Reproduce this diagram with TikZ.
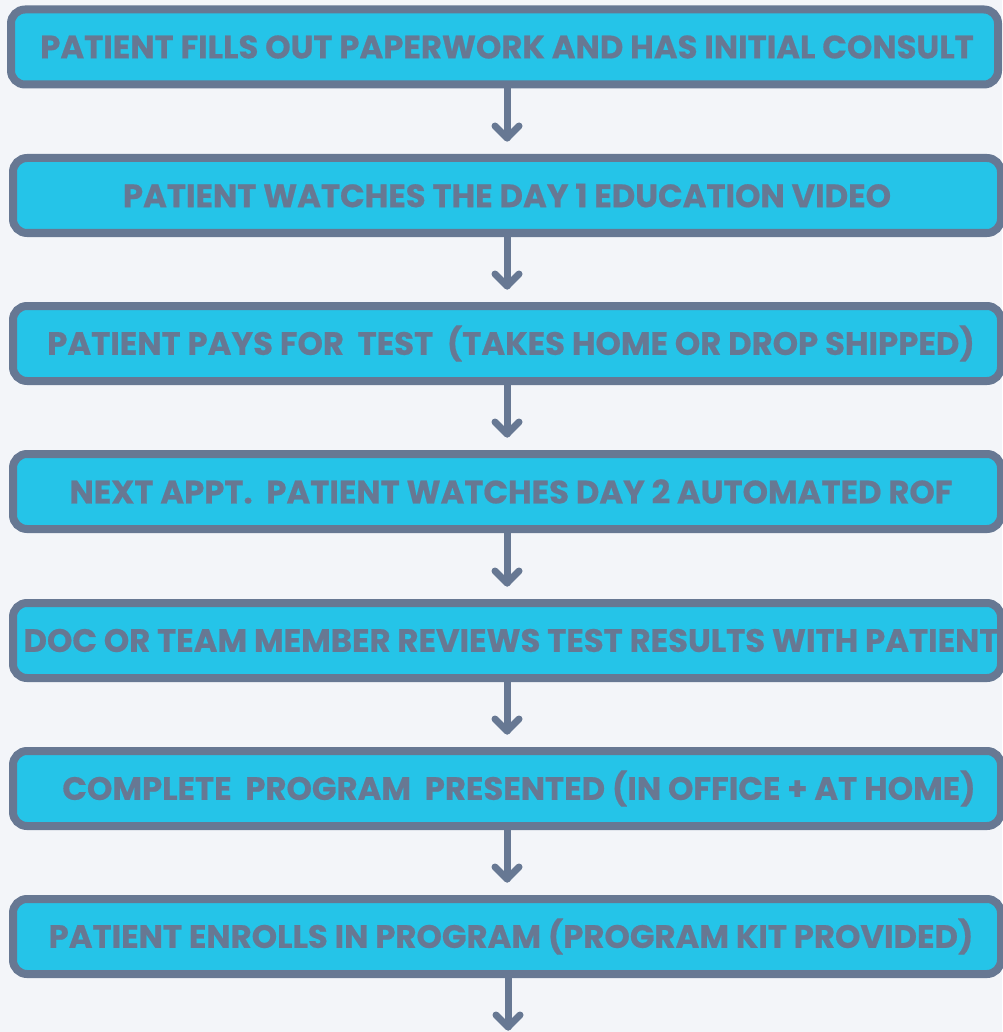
\documentclass[tikz,border=0pt]{standalone}
\usepackage{fontspec}
\newfontfamily\popfont{Poppins}[FakeBold=0.6]
\usetikzlibrary{calc}
\definecolor{bg}{HTML}{F3F5F9}
\definecolor{boxfill}{HTML}{25C4E8}
\definecolor{slate}{HTML}{677893}
\tikzset{
  stepbox/.style={draw=slate, fill=boxfill, line width=8pt, rounded corners=14pt,
    minimum height=75pt, inner sep=0pt, text=slate,
    font=\popfont\bfseries\fontsize{32.3}{38}\selectfont},
  conn/.style={draw=slate, line width=7pt, line cap=round, line join=round},
}
\begin{document}
\begin{tikzpicture}[x=1pt,y=-1pt]
\fill[bg] (0,0) rectangle (1002,1032);
\useasboundingbox (0,0) rectangle (1002,1032);
\node[stepbox, minimum width=987pt] (b1) at (504.5,47) {\hspace{5pt}PATIENT FILLS OUT PAPERWORK AND HAS INITIAL CONSULT};
\node[stepbox, minimum width=988pt] (b2) at (507,195.5) {PATIENT WATCHES THE DAY 1 EDUCATION VIDEO};
\node[stepbox, minimum width=988pt] (b3) at (507,343.5) {\hspace{8pt}PATIENT PAYS FOR\ \ TEST\ \ (TAKES HOME OR DROP SHIPPED)};
\node[stepbox, minimum width=988pt] (b4) at (507,491.5) {\hspace{8pt}NEXT APPT.\ \ PATIENT WATCHES DAY 2 AUTOMATED ROF};
\node[stepbox, minimum width=988pt] (b5) at (507,640.5) {\hspace{8pt}DOC OR TEAM MEMBER REVIEWS TEST RESULTS WITH PATIENT};
\node[stepbox, minimum width=988pt] (b6) at (507,788.5) {\hspace{24pt}COMPLETE\ \ PROGRAM\ \ PRESENTED (IN OFFICE + AT HOME)};
\node[stepbox, minimum width=988pt] (b7) at (507,936.5) {\hspace{8pt}PATIENT ENROLLS IN PROGRAM (PROGRAM KIT PROVIDED)};
\coordinate (end) at (508,1027);
\foreach \a/\b in {b1/b2,b2/b3,b3/b4,b4/b5,b5/b6,b6/b7}{
  \coordinate (tip) at ([yshift=16pt]\b.north);
  \draw[conn] (\a.south -| \b.north) -- (tip);
  \draw[conn] ($(tip)+(-12,-12)$) -- (tip) -- ($(tip)+(12,-12)$);
}
\draw[conn] (b7.south -| end) -- (end);
\draw[conn] ($(end)+(-12,-12)$) -- (end) -- ($(end)+(12,-12)$);
\end{tikzpicture}
\end{document}
